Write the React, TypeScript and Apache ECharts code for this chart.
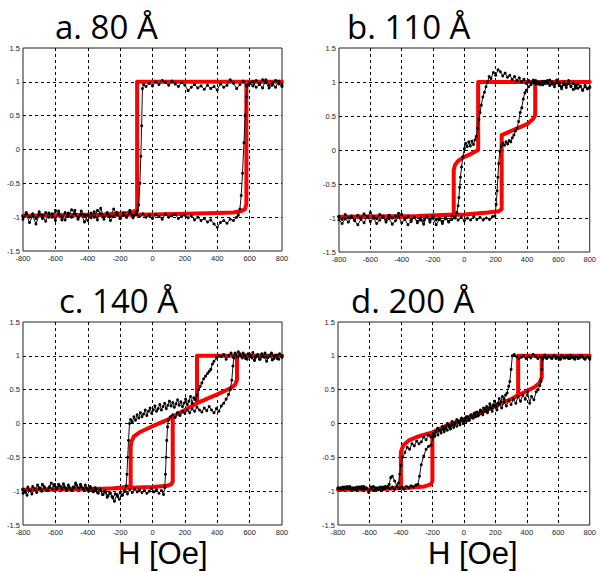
import React, { useEffect, useRef } from "react";
import * as echarts from "echarts";

// ---------- axis ticks ----------
const xMin = -800;
const xMax = 800;
const xStep = 200;
const yMin = -1.5;
const yMax = 1.5;
const yStep = 0.5;

// ---------- panel titles ----------
const panelTitles = ["a. 80 Å", "b. 110 Å", "c. 140 Å", "d. 200 Å"];
const xAxisName = "H [Oe]";

// ---------- panel a (80 Å) ----------
const simA: number[][] = [
  [800, 1], [-95, 1], [-95, -0.9], [-150, -0.94], [-300, -0.96], [-800, -0.98],
  [-400, -0.97], [0, -0.96], [200, -0.95], [400, -0.94], [500, -0.93], [550, -0.91],
  [572, -0.88], [580, -0.8], [580, 1], [800, 1],
];
const expADown: number[][] = [
  [800, 0.93], [780, 0.97], [760, 1.02], [740, 0.95], [720, 0.91], [700, 0.99], [680, 1.03],
  [660, 0.96], [640, 0.92], [620, 1.0], [600, 0.97], [580, 0.94], [560, 1.01], [540, 0.96],
  [520, 0.9], [500, 0.98], [480, 1.03], [460, 0.95], [440, 0.92], [420, 0.97], [400, 0.88],
  [380, 0.93], [360, 0.9], [340, 0.95], [320, 0.89], [300, 0.94], [280, 0.91], [260, 0.96],
  [240, 0.92], [220, 0.87], [200, 0.95], [180, 0.99], [160, 0.93], [140, 0.97], [120, 1.01],
  [100, 0.95], [80, 0.99], [60, 1.02], [40, 0.96], [20, 1.0], [0, 0.94], [-20, 0.98],
  [-40, 0.93], [-55, 0.96], [-62, 0.9], [-67, 0.35], [-72, -0.1], [-78, -0.5], [-85, -0.82],
  [-92, -0.9], [-100, -0.93], [-120, -0.98], [-140, -0.9], [-160, -1.0], [-180, -0.94],
  [-200, -1.02], [-220, -0.96], [-240, -0.88], [-260, -0.99], [-280, -0.93], [-300, -1.03],
  [-320, -0.95], [-340, -0.9], [-360, -1.0], [-380, -0.94], [-400, -1.05], [-420, -0.97],
  [-440, -0.91], [-460, -1.01], [-480, -0.95], [-500, -0.89], [-520, -0.99], [-540, -0.93],
  [-560, -1.04], [-580, -0.96], [-600, -0.9], [-620, -1.0], [-640, -0.94], [-660, -1.06],
  [-680, -0.97], [-700, -0.92], [-720, -1.02], [-740, -0.95], [-760, -1.0], [-780, -0.93],
  [-800, -0.99],
];
const expAUp: number[][] = [
  [-800, -1.03], [-780, -0.95], [-760, -1.08], [-740, -0.98], [-720, -1.1], [-700, -0.96],
  [-680, -1.02], [-660, -0.93], [-640, -1.0], [-620, -0.95], [-600, -1.05], [-580, -0.91],
  [-560, -0.99], [-540, -1.04], [-520, -0.94], [-500, -1.0], [-480, -0.9], [-460, -1.03],
  [-440, -0.96], [-420, -1.07], [-400, -0.97], [-380, -1.01], [-360, -0.92], [-340, -1.04],
  [-320, -0.87], [-300, -1.0], [-280, -0.95], [-260, -1.05], [-240, -0.98], [-220, -0.93],
  [-200, -1.02], [-180, -0.97], [-160, -1.0], [-140, -0.94], [-120, -1.01], [-100, -0.96],
  [-80, -0.99], [-60, -0.95], [-40, -1.0], [-20, -0.97], [0, -1.02], [20, -0.96], [40, -0.99],
  [60, -1.03], [80, -0.95], [100, -1.0], [120, -0.98], [140, -0.96], [160, -1.02], [180, -0.99],
  [200, -0.97], [220, -1.01], [240, -0.98], [260, -1.04], [280, -1.0], [300, -1.05],
  [320, -1.02], [340, -1.07], [360, -1.04], [380, -1.1], [400, -1.15], [420, -1.08],
  [440, -1.05], [460, -1.09], [480, -1.03], [500, -1.05], [520, -1.0], [530, -0.97],
  [540, -0.88], [548, -0.68], [556, -0.35], [565, 0.1], [572, 0.5], [580, 0.78], [588, 0.95],
  [600, 0.99], [620, 0.94], [640, 1.02], [660, 0.97], [680, 0.91], [700, 1.03], [720, 0.95],
  [740, 0.99], [760, 0.92], [780, 1.01], [800, 0.96],
];

// ---------- panel b (110 Å) ----------
const simB: number[][] = [
  [800, 1], [88, 1], [88, 0.0], [40, -0.06], [0, -0.1], [-40, -0.16], [-60, -0.22],
  [-68, -0.3], [-68, -0.95], [-300, -0.97], [-800, -0.98], [-400, -0.98], [0, -0.95],
  [150, -0.92], [220, -0.9], [238, -0.87], [238, 0.22], [300, 0.28], [400, 0.38],
  [440, 0.46], [452, 0.52], [452, 1], [800, 1],
];
const expBDown: number[][] = [
  [800, 0.92], [785, 0.9], [770, 0.95], [755, 0.88], [740, 0.93], [725, 0.97], [710, 0.91],
  [695, 0.98], [680, 0.94], [665, 1.02], [650, 0.96], [635, 1.0], [620, 0.93], [605, 0.99],
  [590, 1.03], [575, 0.97], [560, 1.0], [545, 0.95], [530, 1.02], [515, 0.98], [500, 1.01],
  [485, 0.96], [470, 1.0], [455, 0.97], [440, 1.03], [425, 0.99], [410, 1.02], [395, 0.98],
  [380, 1.04], [365, 1.0], [350, 1.06], [335, 1.02], [320, 1.08], [305, 1.04], [290, 1.1],
  [275, 1.07], [260, 1.13], [245, 1.09], [230, 1.15], [215, 1.18], [200, 1.1], [185, 1.14],
  [170, 1.05], [158, 1.08], [148, 1.0], [138, 0.93], [128, 0.85], [118, 0.78], [108, 0.66],
  [100, 0.55], [92, 0.45], [84, 0.32], [76, 0.2], [68, 0.15], [58, 0.08], [48, 0.13],
  [38, 0.06], [28, 0.12], [18, 0.05], [8, 0.1], [0, 0.02], [-10, -0.1], [-18, -0.25],
  [-25, -0.4], [-30, -0.55], [-35, -0.7], [-40, -0.82], [-48, -0.92], [-60, -1.0],
  [-80, -0.97], [-100, -1.05], [-120, -0.99], [-140, -1.08], [-160, -1.02], [-180, -1.1],
  [-200, -1.0], [-220, -1.06], [-240, -0.98], [-260, -1.09], [-280, -1.03], [-300, -1.07],
  [-320, -0.99], [-340, -1.05], [-360, -1.1], [-380, -1.02], [-400, -1.07], [-420, -0.98],
  [-440, -1.04], [-460, -1.09], [-480, -1.01], [-500, -1.06], [-520, -0.97], [-540, -1.03],
  [-560, -1.08], [-580, -1.0], [-600, -1.05], [-620, -0.98], [-640, -1.07], [-660, -1.02],
  [-680, -1.1], [-700, -1.04], [-720, -0.99], [-740, -1.06], [-760, -1.01], [-780, -1.08],
  [-800, -1.03],
];
const expBUp: number[][] = [
  [-800, -0.98], [-780, -1.02], [-760, -0.95], [-740, -1.0], [-720, -0.97], [-700, -1.03],
  [-680, -0.96], [-660, -1.0], [-640, -0.94], [-620, -0.99], [-600, -0.92], [-580, -0.98],
  [-560, -1.01], [-540, -0.95], [-520, -0.99], [-500, -1.03], [-480, -0.96], [-460, -1.0],
  [-440, -0.97], [-420, -0.93], [-400, -0.95], [-380, -1.01], [-360, -0.98], [-340, -1.03],
  [-320, -0.99], [-300, -1.05], [-280, -1.0], [-260, -1.04], [-240, -0.98], [-220, -1.02],
  [-200, -0.97], [-180, -1.03], [-160, -1.0], [-140, -1.05], [-120, -1.01], [-100, -1.06],
  [-80, -1.02], [-60, -0.98], [-40, -1.03], [-20, -0.99], [0, -1.04], [20, -1.0], [40, -1.03],
  [60, -0.98], [80, -1.02], [100, -0.99], [120, -1.03], [140, -1.0], [160, -1.02],
  [180, -0.98], [195, -0.97], [203, -0.8], [209, -0.6], [214, -0.4], [219, -0.2],
  [226, -0.02], [236, 0.06], [246, 0.1], [256, 0.07], [266, 0.12], [276, 0.09], [286, 0.14],
  [296, 0.12], [306, 0.18], [316, 0.22], [326, 0.28], [336, 0.32], [346, 0.42], [356, 0.55],
  [366, 0.62], [376, 0.75], [386, 0.84], [396, 0.88], [410, 0.93], [425, 0.96], [440, 0.99],
  [455, 1.02], [470, 0.97], [485, 1.0], [500, 0.96], [515, 1.01], [530, 0.98], [545, 1.03],
  [560, 0.97], [575, 0.93], [590, 0.99], [605, 0.95], [620, 0.9], [635, 0.96], [650, 0.92],
  [665, 0.98], [680, 0.93], [695, 0.89], [710, 0.95], [725, 0.91], [740, 0.94], [755, 0.88],
  [770, 0.93], [785, 0.9], [800, 0.93],
];

// ---------- panel c (140 Å) ----------
const simC: number[][] = [
  [800, 1], [275, 1], [275, 0.3], [200, 0.2], [125, 0.1], [88, 0.05], [0, -0.04],
  [-80, -0.13], [-115, -0.19], [-130, -0.27], [-135, -0.35], [-135, -0.93], [-250, -0.96],
  [-800, -0.98], [-400, -0.97], [0, -0.94], [90, -0.92], [115, -0.9], [125, -0.86],
  [125, 0.1], [200, 0.2], [275, 0.3], [400, 0.43], [480, 0.52], [510, 0.57], [522, 0.65],
  [522, 1], [800, 1],
];
const expCDown: number[][] = [
  [800, 0.98], [785, 1.03], [770, 0.96], [755, 1.0], [740, 0.94], [725, 1.01], [710, 0.97],
  [695, 1.04], [680, 0.99], [665, 0.95], [650, 1.02], [635, 0.97], [620, 1.05], [605, 0.99],
  [590, 1.03], [575, 0.96], [560, 1.04], [545, 1.0], [530, 1.06], [515, 1.02], [500, 0.98],
  [485, 1.04], [470, 1.0], [455, 0.95], [440, 1.02], [425, 0.99], [410, 1.0], [395, 0.97],
  [380, 0.92], [370, 0.88], [360, 0.8], [350, 0.77], [340, 0.74], [328, 0.7], [316, 0.66],
  [305, 0.6], [295, 0.55], [285, 0.5], [275, 0.42], [265, 0.35], [255, 0.38], [245, 0.3],
  [235, 0.4], [225, 0.33], [215, 0.28], [205, 0.36], [195, 0.3], [185, 0.25], [175, 0.32],
  [165, 0.27], [155, 0.35], [145, 0.29], [135, 0.24], [125, 0.31], [115, 0.26], [105, 0.33],
  [95, 0.27], [85, 0.22], [75, 0.3], [65, 0.25], [55, 0.2], [45, 0.28], [35, 0.22],
  [25, 0.18], [15, 0.26], [5, 0.2], [-5, 0.15], [-15, 0.23], [-25, 0.18], [-35, 0.12],
  [-45, 0.2], [-55, 0.14], [-65, 0.1], [-75, 0.16], [-85, 0.08], [-95, 0.13], [-105, 0.05],
  [-115, 0.1], [-125, 0.02], [-135, 0.06], [-142, 0.0], [-148, -0.25], [-153, -0.5],
  [-158, -0.75], [-163, -0.92], [-175, -1.0], [-190, -1.06], [-205, -1.12], [-220, -1.05],
  [-235, -1.15], [-250, -1.08], [-265, -1.02], [-280, -1.09], [-295, -1.0], [-310, -1.05],
  [-325, -0.97], [-340, -1.02], [-355, -0.95], [-370, -1.0], [-385, -0.93], [-400, -0.98],
  [-415, -0.91], [-430, -0.96], [-445, -0.9], [-460, -0.95], [-475, -0.88], [-490, -0.94],
  [-505, -0.98], [-520, -0.91], [-535, -0.96], [-550, -0.89], [-565, -0.94], [-580, -0.9],
  [-595, -0.97], [-610, -0.92], [-625, -0.88], [-640, -0.95], [-655, -0.99], [-670, -0.93],
  [-685, -1.0], [-700, -0.95], [-715, -1.02], [-730, -0.97], [-745, -1.04], [-760, -0.99],
  [-775, -1.06], [-790, -1.0], [-800, -1.03],
];
const expCUp: number[][] = [
  [-800, -0.97], [-785, -1.02], [-770, -0.94], [-755, -0.99], [-740, -0.93], [-725, -0.97],
  [-710, -0.91], [-695, -0.96], [-680, -0.9], [-665, -0.95], [-650, -0.99], [-635, -0.93],
  [-620, -0.97], [-605, -0.9], [-590, -0.95], [-575, -0.92], [-560, -0.97], [-545, -0.93],
  [-530, -0.98], [-515, -0.94], [-500, -0.99], [-485, -0.95], [-470, -0.91], [-455, -0.96],
  [-440, -0.93], [-425, -0.98], [-410, -0.95], [-395, -1.0], [-380, -0.96], [-365, -1.01],
  [-350, -0.97], [-335, -1.03], [-320, -0.99], [-305, -1.05], [-290, -1.01], [-275, -1.07],
  [-260, -1.03], [-245, -1.1], [-230, -1.04], [-215, -1.08], [-200, -1.02], [-185, -1.06],
  [-170, -1.0], [-155, -1.04], [-140, -0.98], [-125, -1.02], [-110, -0.97], [-95, -1.01],
  [-80, -0.98], [-65, -1.02], [-50, -0.99], [-35, -1.03], [-20, -1.0], [-5, -0.96],
  [10, -1.01], [25, -0.98], [40, -1.03], [55, -0.99], [68, -1.05], [76, -0.95], [80, -0.75],
  [84, -0.5], [88, -0.25], [93, -0.05], [98, 0.05], [110, 0.1], [125, 0.13], [140, 0.09],
  [155, 0.16], [170, 0.12], [185, 0.18], [200, 0.15], [215, 0.2], [230, 0.16], [245, 0.22],
  [260, 0.18], [275, 0.24], [290, 0.2], [305, 0.17], [320, 0.23], [335, 0.19], [350, 0.25],
  [365, 0.2], [380, 0.16], [395, 0.22], [410, 0.18], [425, 0.26], [440, 0.3], [455, 0.36],
  [470, 0.43], [480, 0.5], [490, 0.64], [497, 0.85], [503, 0.97], [510, 1.04], [525, 0.98],
  [540, 1.03], [555, 0.97], [570, 1.01], [585, 0.95], [600, 1.02], [615, 0.97], [630, 0.93],
  [645, 1.0], [660, 0.95], [675, 1.03], [690, 0.98], [705, 0.92], [720, 0.99], [735, 1.04],
  [750, 0.96], [765, 1.01], [780, 0.95], [800, 1.0],
];

// ---------- panel d (200 Å) ----------
const simD: number[][] = [
  [800, 1], [345, 1], [345, 0.42], [300, 0.36], [200, 0.26], [100, 0.15], [0, 0.06],
  [-100, -0.02], [-200, -0.13], [-300, -0.2], [-350, -0.25], [-385, -0.32], [-400, -0.42],
  [-400, -0.95], [-550, -0.97], [-800, -0.98], [-550, -0.97], [-350, -0.95], [-250, -0.93],
  [-210, -0.9], [-200, -0.85], [-200, -0.13], [-100, -0.02], [0, 0.06], [100, 0.15],
  [200, 0.26], [300, 0.36], [400, 0.48], [450, 0.54], [480, 0.6], [495, 0.68], [495, 1],
  [800, 1],
];
const expDDown: number[][] = [
  [800, 0.97], [785, 0.99], [770, 0.95], [755, 0.98], [740, 1.0], [725, 0.96], [710, 0.99],
  [695, 0.97], [680, 1.01], [665, 0.96], [650, 0.99], [635, 0.97], [620, 1.0], [605, 0.95],
  [590, 0.98], [575, 1.0], [560, 0.96], [545, 0.99], [530, 0.97], [515, 1.01], [500, 0.97],
  [485, 0.99], [470, 0.96], [455, 0.99], [440, 1.02], [425, 0.97], [410, 0.99], [395, 0.96],
  [380, 1.0], [365, 0.98], [350, 0.96], [335, 0.99], [320, 1.02], [308, 1.0], [300, 0.8],
  [292, 0.62], [285, 0.55], [275, 0.45], [265, 0.42], [255, 0.36], [245, 0.4], [235, 0.32],
  [225, 0.37], [215, 0.3], [205, 0.25], [195, 0.33], [185, 0.27], [175, 0.22], [165, 0.29],
  [155, 0.2], [145, 0.25], [135, 0.18], [125, 0.23], [115, 0.15], [105, 0.2], [95, 0.13],
  [85, 0.17], [75, 0.1], [65, 0.15], [55, 0.08], [45, 0.12], [35, 0.05], [25, 0.1],
  [15, 0.03], [5, 0.07], [-5, 0.0], [-15, 0.05], [-25, -0.02], [-35, 0.03], [-45, -0.04],
  [-55, 0.01], [-65, -0.06], [-75, -0.02], [-85, -0.08], [-95, -0.03], [-105, -0.1],
  [-115, -0.05], [-125, -0.12], [-135, -0.08], [-145, -0.14], [-155, -0.1], [-165, -0.17],
  [-175, -0.12], [-185, -0.19], [-195, -0.15], [-210, -0.2], [-225, -0.17], [-240, -0.24],
  [-255, -0.2], [-270, -0.27], [-285, -0.3], [-300, -0.26], [-315, -0.33], [-330, -0.3],
  [-345, -0.38], [-360, -0.35], [-375, -0.43], [-390, -0.5], [-400, -0.62], [-408, -0.75],
  [-415, -0.88], [-425, -0.92], [-440, -0.85], [-455, -0.78], [-465, -0.8], [-475, -0.9],
  [-485, -0.95], [-500, -0.93], [-515, -0.97], [-530, -0.94], [-545, -0.98], [-560, -0.95],
  [-575, -0.99], [-590, -0.94], [-605, -1.02], [-620, -0.96], [-635, -0.93], [-650, -0.97],
  [-665, -0.94], [-680, -0.98], [-695, -0.95], [-710, -0.97], [-725, -0.93], [-740, -0.96],
  [-755, -0.94], [-770, -0.98], [-785, -0.95], [-800, -0.96],
];
const expDUp: number[][] = [
  [-800, -0.95], [-785, -0.97], [-770, -0.94], [-755, -0.96], [-740, -0.93], [-725, -0.97],
  [-710, -0.95], [-695, -0.98], [-680, -0.94], [-665, -0.96], [-650, -0.93], [-635, -0.97],
  [-620, -0.95], [-605, -0.99], [-590, -0.96], [-575, -0.93], [-560, -0.97], [-545, -0.95],
  [-530, -0.98], [-515, -0.94], [-500, -0.96], [-485, -0.93], [-470, -0.96], [-455, -0.94],
  [-440, -0.97], [-425, -0.93], [-410, -0.96], [-395, -0.94], [-380, -0.97], [-365, -0.93],
  [-350, -0.95], [-335, -0.92], [-320, -0.94], [-305, -0.91], [-292, -0.9], [-282, -0.78],
  [-271, -0.61], [-255, -0.48], [-240, -0.38], [-225, -0.34], [-209, -0.32], [-195, -0.2],
  [-180, -0.12], [-167, -0.07], [-150, -0.1], [-135, -0.04], [-120, -0.08], [-105, 0.0],
  [-90, -0.05], [-75, 0.03], [-60, -0.02], [-45, 0.06], [-30, 0.01], [-15, 0.08], [0, 0.03],
  [15, 0.1], [30, 0.05], [45, 0.13], [60, 0.08], [75, 0.16], [90, 0.11], [105, 0.19],
  [120, 0.13], [135, 0.22], [150, 0.16], [165, 0.24], [180, 0.18], [195, 0.27], [210, 0.2],
  [225, 0.29], [240, 0.23], [255, 0.32], [270, 0.26], [285, 0.34], [300, 0.28], [315, 0.36],
  [330, 0.3], [345, 0.4], [360, 0.33], [375, 0.42], [390, 0.36], [405, 0.47], [418, 0.3],
  [430, 0.4], [445, 0.35], [460, 0.47], [472, 0.5], [482, 0.56], [490, 0.62], [495, 0.8],
  [500, 0.95], [510, 0.98], [525, 0.96], [540, 0.99], [555, 0.97], [570, 1.0], [585, 0.96],
  [600, 0.98], [615, 0.95], [630, 0.99], [645, 0.97], [660, 1.0], [675, 0.96], [690, 0.98],
  [705, 0.95], [720, 0.99], [735, 0.97], [750, 1.0], [765, 0.96], [780, 0.98], [800, 0.95],
];

const simLoops = [simA, simB, simC, simD];
const expLoops = [
  [...expADown, ...expAUp],
  [...expBDown, ...expBUp],
  [...expCDown, ...expCUp],
  [...expDDown, ...expDUp],
];

// ---------- layout ----------
const gridBoxes = [
  { left: 23, top: 48, width: 259, height: 203 },
  { left: 339, top: 48, width: 258, height: 204 },
  { left: 23, top: 322, width: 259, height: 203 },
  { left: 338, top: 322, width: 258, height: 203 },
];
const titlePos = [
  [55, 26],
  [347, 26],
  [59, 300],
  [351, 300],
];
const xNamePos = [
  [118, 553],
  [428, 553],
];

const TITLE_FONT = "'Open Sans', Lato, sans-serif";
const NAME_FONT = "'Liberation Sans', Arial, sans-serif";
const TICK_FONT = "'Liberation Sans', Arial, sans-serif";

export default function App() {
  const ref = useRef<HTMLDivElement>(null);

  useEffect(() => {
    document.body.style.margin = "0";
    if (!ref.current) return;
    const chart = echarts.init(ref.current, undefined, { renderer: "svg" });

    const grid = gridBoxes.map((g) => ({
      ...g,
      show: true,
      borderColor: "#222",
      borderWidth: 1,
      backgroundColor: "#fff",
      containLabel: false,
    }));

    const axisLabel = {
      fontSize: 7.5,
      color: "#222",
      fontFamily: TICK_FONT,
      margin: 3,
    };
    const splitLine = {
      show: true,
      showMinLine: false,
      showMaxLine: false,
      lineStyle: { type: [3, 3], color: "#000", width: 1 },
    };

    const xAxis = gridBoxes.map((_, i) => ({
      type: "value",
      gridIndex: i,
      min: xMin,
      max: xMax,
      interval: xStep,
      axisLine: { show: false },
      axisTick: { show: false },
      axisLabel,
      splitLine,
    }));
    const yAxis = gridBoxes.map((_, i) => ({
      type: "value",
      gridIndex: i,
      min: yMin,
      max: yMax,
      interval: yStep,
      axisLine: { show: false },
      axisTick: { show: false },
      axisLabel,
      splitLine,
    }));

    const series: any[] = [];
    gridBoxes.forEach((_, i) => {
      series.push({
        type: "line",
        name: "sim" + i,
        xAxisIndex: i,
        yAxisIndex: i,
        data: simLoops[i],
        showSymbol: false,
        lineStyle: { color: "#ff0000", width: 4, cap: "round", join: "round" },
        itemStyle: { color: "#ff0000" },
        z: 2,
      });
      series.push({
        type: "line",
        name: "exp" + i,
        xAxisIndex: i,
        yAxisIndex: i,
        data: expLoops[i],
        showSymbol: true,
        showAllSymbol: true,
        symbol: "circle",
        symbolSize: 3,
        lineStyle: { color: "#111", width: 1 },
        itemStyle: { color: "#000" },
        z: 3,
      });
    });

    const graphic: any[] = [];
    panelTitles.forEach((t, i) => {
      graphic.push({
        type: "text",
        x: titlePos[i][0],
        y: titlePos[i][1],
        style: {
          text: t,
          fontSize: 33,
          lineHeight: 30,
          fontFamily: TITLE_FONT,
          fill: "#000",
          align: "left",
          verticalAlign: "middle",
        },
      });
    });
    xNamePos.forEach((p) => {
      graphic.push({
        type: "text",
        x: p[0],
        y: p[1],
        style: {
          text: xAxisName,
          fontSize: 31,
          lineHeight: 26,
          fontFamily: NAME_FONT,
          fill: "#000",
          align: "left",
          verticalAlign: "middle",
        },
      });
    });

    chart.setOption({
      animation: false,
      backgroundColor: "#fff",
      grid,
      xAxis,
      yAxis,
      series,
      graphic,
    });

    return () => chart.dispose();
  }, []);

  return <div ref={ref} style={{ width: 599, height: 572 }} />;
}
